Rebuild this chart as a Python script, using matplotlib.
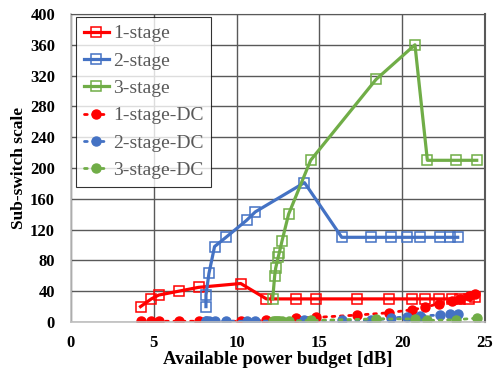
import matplotlib.pyplot as plt

plt.rcParams['font.family'] = ['Liberation Serif', 'DejaVu Serif']

# 1-stage
x1 = [4.2, 4.85, 5.3, 6.5, 7.7, 10.25, 11.8, 13.6, 14.8, 17.3, 19.2, 20.6, 21.4, 22.2, 23.0, 23.5, 24.05, 24.4]
y1 = [20, 30, 35, 40, 45, 50, 30, 30, 30, 30, 30, 30, 30, 30, 30, 30, 30, 32]
y1dc = [1, 1, 1, 1, 1, 1, 2, 5, 6, 9, 12, 16, 19, 24, 27, 30, 34, 37]

# 2-stage
x2 = [8.15, 8.15, 8.33, 8.67, 9.36, 10.6, 11.13, 14.1, 16.35, 18.1, 19.35, 20.3, 21.1, 22.3, 22.9, 23.35]
y2 = [20, 35, 63, 98, 110, 132, 143, 181, 110, 110, 110, 110, 110, 110, 110, 110]
y2dc = [1, 1, 1, 1, 1, 1, 1, 2, 2, 2, 5, 7, 8, 9, 10, 11]

# 3-stage
x3 = [12.18, 12.3, 12.36, 12.52, 12.58, 12.74, 13.14, 14.47, 18.42, 20.77, 21.52, 23.25, 24.5]
y3 = [30, 60, 70, 85, 90, 105, 140, 210, 315, 360, 210, 210, 210]
y3dc = [1, 1, 1, 1, 1, 1, 1, 2, 4, 4, 2, 3, 5]

red = '#FF0000'
blue = '#4472C4'
green = '#70AD47'

fig = plt.figure(figsize=(4.95, 3.72), dpi=100)
ax = fig.add_axes([0.1434, 0.1344, 0.8364, 0.828])

for x, y, c, lab in [(x1, y1, red, '1-stage'), (x2, y2, blue, '2-stage'), (x3, y3, green, '3-stage')]:
    ax.plot(x, y, color=c, lw=2.3, marker='s', ms=6.5, mfc='none', mec=c, mew=1.1, label=lab)

for x, y, c, lab in [(x1, y1dc, red, '1-stage-DC'), (x2, y2dc, blue, '2-stage-DC'), (x3, y3dc, green, '3-stage-DC')]:
    ax.plot(x, y, color=c, lw=2, ls=(0, (1, 2)), dash_capstyle='round', marker='o', ms=6.5,
            mfc=c, mec=c, label=lab)

ax.set_xlim(0, 25)
ax.set_ylim(0, 400)
ax.set_xticks(range(0, 26, 5))
ax.set_yticks(range(0, 401, 40))
ax.grid(True, color='#595959', lw=1)
ax.set_axisbelow(True)
ax.tick_params(length=0, labelsize=12)
ax.tick_params(axis='y', pad=11.5)
ax.tick_params(axis='x', pad=9)
for t in ax.get_xticklabels() + ax.get_yticklabels():
    t.set_fontweight('bold')
for s in ['left', 'bottom']:
    ax.spines[s].set_color('#bfbfbf')
    ax.spines[s].set_linewidth(1.2)
ax.spines['top'].set_color('#595959')
ax.spines['right'].set_color('#595959')
ax.spines['right'].set_linewidth(1.5)

ax.set_xlabel('Available power budget [dB]', fontsize=13.5, fontweight='bold', labelpad=0)
ax.set_ylabel('Sub-switch scale', fontsize=12.5, fontweight='bold', labelpad=2)

leg = ax.legend(loc='upper left', fontsize=14, frameon=True, fancybox=False, handlelength=1.3,
                handletextpad=0.2, labelspacing=0.5, borderpad=0.4, bbox_to_anchor=(0.012, 0.99),
                borderaxespad=0)
leg.get_frame().set_edgecolor('black')
leg.get_frame().set_linewidth(0.8)
for t in leg.get_texts():
    t.set_color('#595959')

fig.savefig('out.png', dpi=100)
